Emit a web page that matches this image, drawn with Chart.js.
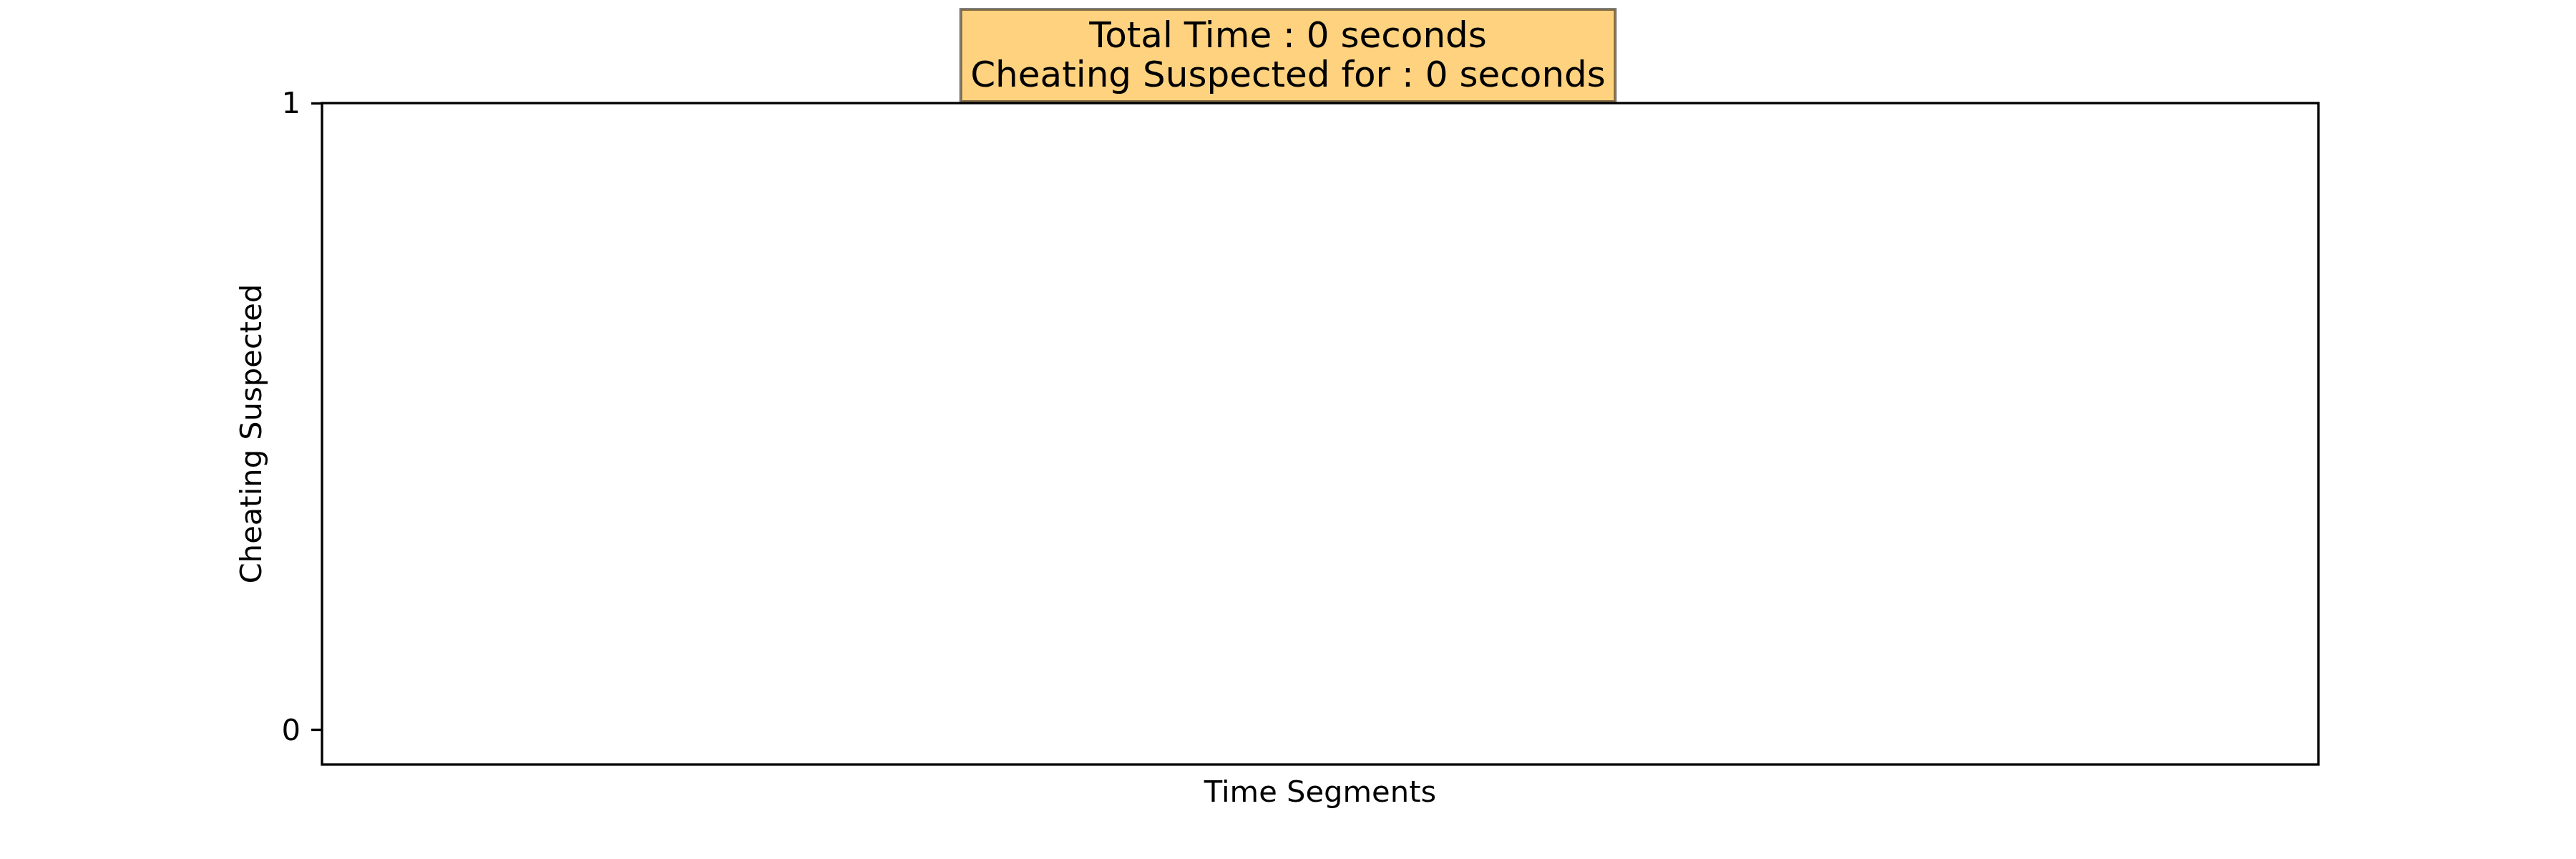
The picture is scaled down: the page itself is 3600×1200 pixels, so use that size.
<!DOCTYPE html>
<html>
<head>
<meta charset="utf-8">
<script src="https://cdn.jsdelivr.net/npm/chart.js@4/dist/chart.umd.min.js"></script>
<style>
  html, body { margin: 0; padding: 0; background: #ffffff; }
  #wrap { width: 3600px; height: 1200px; }
</style>
</head>
<body>
<div id="wrap"><canvas id="c" width="3600" height="1200"></canvas></div>
<script>
// ---- data ----
const timeSegments = [];            // no segments recorded
const cheatingSuspected = [];       // no values recorded
const yTickValues = [0, 1];
const yTickLabels = ['0', '1'];
const yMin = -0.055;
const yMax = 1;
const titleLines = ['Total Time : 0 seconds', 'Cheating Suspected for : 0 seconds'];
const xAxisLabel = 'Time Segments';
const yAxisLabel = 'Cheating Suspected';

const FONT = "'DejaVu Sans', 'Liberation Sans', sans-serif";
const TICK_PX = 41.67;
const TITLE_PX = 50;
const LW = 3.33;

const titleBoxPlugin = {
  id: 'titleBox',
  beforeDraw(chart) {
    const tb = chart.titleBlock;
    if (!tb) return;
    const opts = chart.options.plugins.title;
    const size = opts.font.size;
    const lh = size * opts.font.lineHeight;
    const padTop = opts.padding.top;
    const ctx = chart.ctx;
    ctx.save();
    ctx.font = size + 'px ' + FONT;
    let w = 0;
    titleLines.forEach(t => { w = Math.max(w, ctx.measureText(t).width); });
    const cx = (tb.left + tb.right) / 2;
    const firstMid = tb.top + padTop + lh / 2;
    const lastMid = firstMid + (titleLines.length - 1) * lh;
    const top = firstMid - 0.81 * size;
    const bottom = lastMid + 0.67 * size;
    const pad = 0.27 * size;
    const left = cx - w / 2 - pad;
    const right = cx + w / 2 + pad;
    ctx.fillStyle = 'rgba(255,165,0,0.5)';
    ctx.fillRect(left, top, right - left, bottom - top);
    ctx.strokeStyle = 'rgba(0,0,0,0.5)';
    ctx.lineWidth = 4;
    ctx.strokeRect(left, top, right - left, bottom - top);
    ctx.restore();
  }
};

const framePlugin = {
  id: 'frame',
  afterDraw(chart) {
    const a = chart.chartArea;
    const ctx = chart.ctx;
    ctx.save();
    ctx.strokeStyle = '#000000';
    ctx.lineWidth = LW;
    ctx.strokeRect(a.left, a.top, a.right - a.left, a.bottom - a.top);
    ctx.restore();
  }
};

new Chart(document.getElementById('c'), {
  type: 'line',
  data: {
    labels: timeSegments,
    datasets: [{
      label: yAxisLabel,
      data: cheatingSuspected,
      borderColor: '#1f77b4',
      backgroundColor: '#1f77b4',
      borderWidth: 6,
      yAxisID: 'y'
    }]
  },
  options: {
    responsive: false,
    animation: false,
    devicePixelRatio: 1,
    layout: { padding: 0 },
    plugins: {
      legend: { display: false },
      tooltip: { enabled: false },
      title: {
        display: true,
        text: titleLines,
        color: '#000000',
        font: { family: FONT, size: TITLE_PX, weight: 'normal', lineHeight: 1.1 },
        padding: { top: 26, bottom: 8 }
      }
    },
    scales: {
      x: {
        type: 'category',
        ticks: { display: false },
        grid: { display: false, drawTicks: false },
        border: { display: false },
        title: {
          display: true,
          text: xAxisLabel,
          color: '#000000',
          font: { family: FONT, size: TICK_PX, lineHeight: 1.2 },
          padding: { top: 0, bottom: 66 }
        },
        afterFit(scale) { scale.height = 132; }
      },
      y: {
        type: 'linear',
        position: 'left',
        min: yMin,
        max: yMax,
        afterBuildTicks(scale) { scale.ticks = yTickValues.map(v => ({ value: v })); },
        ticks: {
          color: '#000000',
          font: { family: FONT, size: TICK_PX },
          padding: 15,
          labelOffset: 3,
          callback(value) {
            const i = yTickValues.indexOf(value);
            return i >= 0 ? yTickLabels[i] : '';
          }
        },
        grid: {
          drawOnChartArea: false,
          drawTicks: true,
          tickLength: 15,
          tickWidth: LW,
          tickColor: '#000000'
        },
        border: { display: false },
        title: {
          display: true,
          text: yAxisLabel,
          color: '#000000',
          font: { family: FONT, size: TICK_PX, lineHeight: 1.2 },
          padding: { top: 329, bottom: 0 }
        },
        afterFit(scale) { scale.width = 450; }
      },
      yRight: {
        type: 'linear',
        position: 'right',
        min: yMin,
        max: yMax,
        ticks: { display: false },
        grid: { display: false, drawTicks: false },
        border: { display: false },
        afterFit(scale) { scale.width = 360; }
      }
    }
  },
  plugins: [titleBoxPlugin, framePlugin]
});
</script>
</body>
</html>
